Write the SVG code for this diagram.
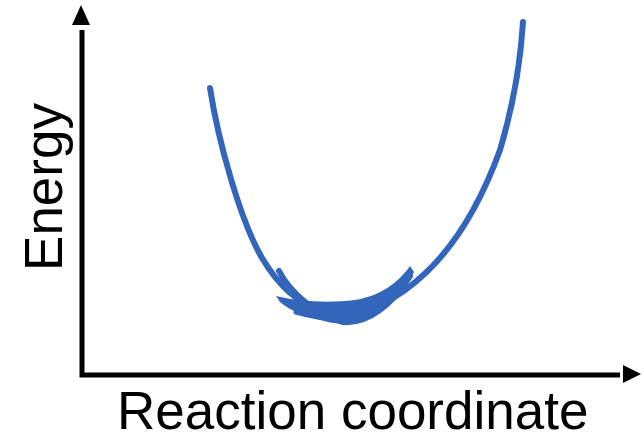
<svg xmlns="http://www.w3.org/2000/svg" width="644" height="440" viewBox="0 0 644 440">
<style>
.axis{stroke:#000;stroke-width:5;fill:none}
.curve{stroke:#3366BB;fill:none;stroke-linecap:round;stroke-linejoin:round}
.lbl{font-family:"Liberation Sans",Arial,sans-serif;font-size:53px;fill:#000}
</style>
<g id="axes">
<polyline points="82,30 82,375 620,375" class="axis"/>
<path d="M81,5 L90,25 L72,25 Z" fill="#000"/>
<path d="M641,374 L623,365 L623,383 Z" fill="#000"/>
</g>
<g id="curve">
<path class="curve" stroke-width="6" d="M210,88 C218,140 240,220 262,258 C280,288 300,304 320,310 C345,318 375,312 405,290 C450,258 480,205 500,150 C512,110 520,70 523,22"/>
<path fill="#3366BB" d="M276,296 C300,302 330,303 355,300 C380,296 398,283 410,266 L414,272 C405,290 390,305 370,316 C355,324 340,326 320,320 C305,316 292,312 280,302 Z"/>
<path class="curve" stroke-width="6" d="M279,271 C290,293 318,316 343,322 C368,324 392,305 410,276"/>
<path class="curve" stroke-width="5" d="M296,312 C330,322 360,320 385,305"/>
</g>
<text class="lbl" x="117" y="429">Reaction coordinate</text>
<text class="lbl" x="62" y="187" text-anchor="middle" transform="rotate(-90 62 187)">Energy</text>
</svg>
